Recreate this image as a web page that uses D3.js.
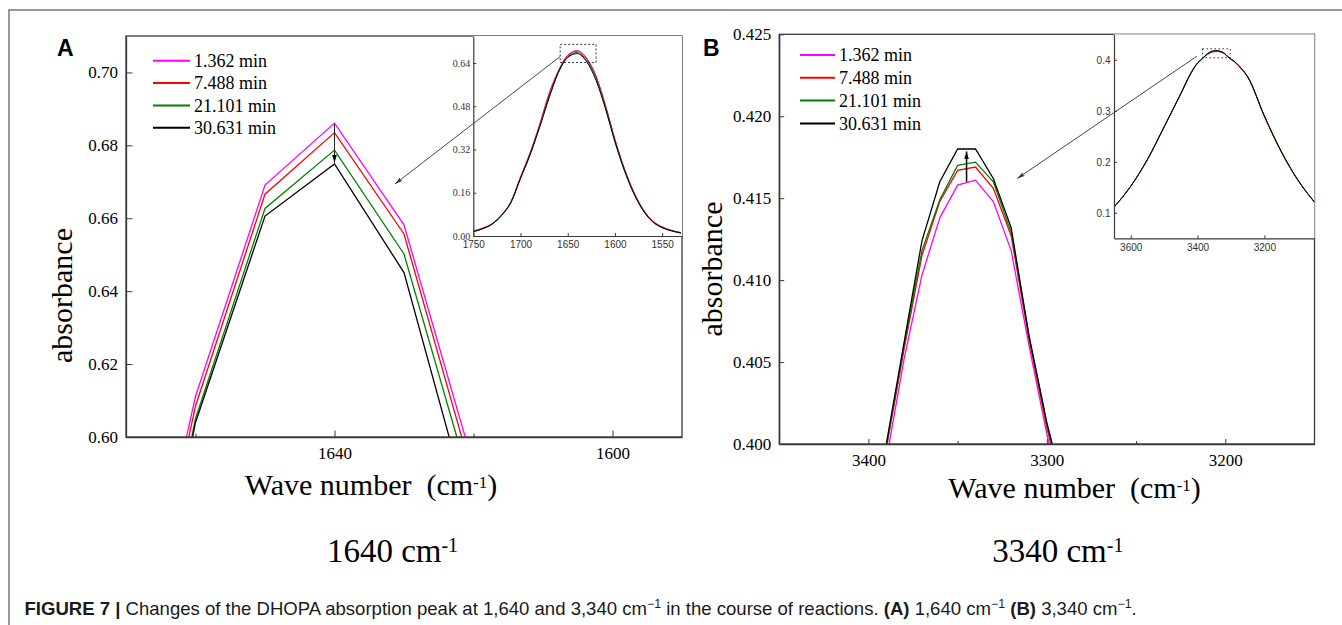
<!DOCTYPE html>
<html>
<head>
<meta charset="utf-8">
<title>Figure 7 - DHOPA absorption peaks</title>
<script src="https://cdn.jsdelivr.net/npm/d3@7"></script>
<style>
  body { margin: 0; background: #fff; }
  svg { display: block; }
</style>
</head>
<body>
<div id="figure"></div>
<script>
// ---- values ----
const seriesNames = ['1.362 min', '7.488 min', '21.101 min', '30.631 min'];
const seriesColors = ['#ff00ff', '#ff0000', '#008000', '#000000'];

// 1640 cm-1 band (the zoomed plot and the inset share these points)
const waveA = [1750, 1740, 1730, 1720, 1710, 1700, 1690, 1680, 1670, 1660, 1650, 1640,
               1630, 1620, 1610, 1600, 1590, 1580, 1570, 1560, 1550, 1540, 1530];
const absA1362 = [0.018, 0.029, 0.046, 0.079, 0.128, 0.219, 0.307, 0.410, 0.526, 0.6111, 0.6691, 0.6861,
                  0.6582, 0.5921, 0.484, 0.358, 0.250, 0.163, 0.098, 0.056, 0.034, 0.021, 0.013];
const absA7488 = [0.018, 0.029, 0.046, 0.078, 0.127, 0.217, 0.305, 0.407, 0.520, 0.6085, 0.6666, 0.6835,
                  0.6557, 0.5886, 0.481, 0.356, 0.248, 0.162, 0.097, 0.055, 0.033, 0.020, 0.012];
const absA21101 = [0.016, 0.027, 0.044, 0.076, 0.125, 0.214, 0.301, 0.402, 0.512, 0.6050, 0.6627, 0.6787,
                   0.6502, 0.5842, 0.477, 0.352, 0.245, 0.159, 0.095, 0.053, 0.031, 0.019, 0.011];
const absA30631 = [0.016, 0.027, 0.044, 0.076, 0.125, 0.213, 0.299, 0.400, 0.508, 0.6040, 0.6606, 0.6749,
                   0.6451, 0.5757, 0.470, 0.348, 0.242, 0.157, 0.093, 0.052, 0.031, 0.019, 0.011];

// 3340 cm-1 band
const waveB = [3650, 3600, 3550, 3500, 3450, 3420, 3400, 3390, 3380, 3370, 3360, 3350,
               3340, 3330, 3320, 3310, 3300, 3290, 3270, 3250, 3200, 3150, 3100, 3050];
const absB1362 = [0.111, 0.152, 0.204, 0.268, 0.333, 0.373, 0.3928, 0.3990, 0.4052, 0.4103, 0.4138, 0.4158,
                  0.4161, 0.4148, 0.4118, 0.4060, 0.4006, 0.3960, 0.383, 0.366, 0.289, 0.220, 0.164, 0.121];
const absB7488 = [0.111, 0.152, 0.204, 0.268, 0.333, 0.373, 0.3934, 0.3997, 0.4058, 0.4115, 0.4148, 0.4167,
                  0.4169, 0.4156, 0.4127, 0.4064, 0.4010, 0.3965, 0.383, 0.366, 0.289, 0.220, 0.164, 0.121];
const absB21101 = [0.111, 0.152, 0.204, 0.268, 0.334, 0.374, 0.3936, 0.3998, 0.4060, 0.4118, 0.4149, 0.4170,
                   0.4172, 0.4160, 0.4129, 0.4066, 0.4012, 0.3968, 0.384, 0.367, 0.290, 0.221, 0.164, 0.121];
const absB30631 = [0.111, 0.152, 0.205, 0.269, 0.334, 0.374, 0.3938, 0.4000, 0.4062, 0.4124, 0.4160, 0.4180,
                   0.4180, 0.4162, 0.4132, 0.4066, 0.4013, 0.3970, 0.384, 0.367, 0.290, 0.221, 0.165, 0.121];

// ticks
const xTicksA = [1640, 1600];
const xMinorA = [1660, 1620];
const yTicksA = [0.60, 0.62, 0.64, 0.66, 0.68, 0.70];
const xTicksInsetA = [1750, 1700, 1650, 1600, 1550];
const yTicksInsetA = [0, 0.16, 0.32, 0.48, 0.64];
const xTicksB = [3400, 3300, 3200];
const xMinorB = [3350, 3250];
const yTicksB = [0.400, 0.405, 0.410, 0.415, 0.420, 0.425];
const xTicksInsetB = [3600, 3400, 3200];
const yTicksInsetB = [0.1, 0.2, 0.3, 0.4];

const seriesA = [absA1362, absA7488, absA21101, absA30631].map((v, i) => ({ name: seriesNames[i], color: seriesColors[i], values: v }));
const seriesB = [absB1362, absB7488, absB21101, absB30631].map((v, i) => ({ name: seriesNames[i], color: seriesColors[i], values: v }));

// ---- drawing ----
const W = 1342, H = 625;
const AXIS = '#3a3a3a';
const SERIF = '"Liberation Serif", "Times New Roman", serif';
const SANS = '"Liberation Sans", Arial, sans-serif';

const svg = d3.select('#figure').append('svg').attr('width', W).attr('height', H);
const defs = svg.append('defs');

// arrow heads
defs.append('marker').attr('id', 'thinHead')
    .attr('viewBox', '0 0 10 10').attr('refX', 10).attr('refY', 5)
    .attr('markerWidth', 8).attr('markerHeight', 8).attr('markerUnits', 'userSpaceOnUse').attr('orient', 'auto')
    .append('path').attr('d', 'M0,2.3 L10,5 L0,7.7 L2,5 Z').attr('fill', '#333');
defs.append('marker').attr('id', 'boldHead')
    .attr('viewBox', '0 0 10 10').attr('refX', 10).attr('refY', 5)
    .attr('markerWidth', 8).attr('markerHeight', 8).attr('markerUnits', 'userSpaceOnUse').attr('orient', 'auto')
    .append('path').attr('d', 'M0,2 L10,5 L0,8 Z').attr('fill', '#000');

// outer figure border
svg.append('path').attr('d', `M9,${H} V10 H${W}`).attr('fill', 'none').attr('stroke', '#777').attr('stroke-width', 1.5);

/**
 * One plot area: lines, inward ticks, labels
 */
function plot(o) {
    const x = d3.scaleLinear().domain(o.xDomain).range([o.box.l, o.box.r]);
    const y = d3.scaleLinear().domain(o.yDomain).range([o.box.b, o.box.t]);
    const g = svg.append('g').attr('class', o.id);

    if (o.background) {
        g.append('rect').attr('x', o.box.l).attr('y', o.box.t)
            .attr('width', o.box.r - o.box.l).attr('height', o.box.b - o.box.t).attr('fill', '#fff');
    }

    defs.append('clipPath').attr('id', `${o.id}-clip`).append('rect')
        .attr('x', o.box.l).attr('y', o.box.t)
        .attr('width', o.box.r - o.box.l).attr('height', o.box.b - o.box.t);

    const line = d3.line().x((d, i) => x(o.wave[i])).y(d => y(d)).curve(o.curve || d3.curveLinear);
    g.append('g').attr('clip-path', `url(#${o.id}-clip)`)
        .selectAll('path').data(o.series).join('path')
        .attr('d', d => line(d.values))
        .attr('fill', 'none')
        .attr('stroke', d => d.color)
        .attr('stroke-width', o.lineWidth);

    const xAxis = g.append('g').attr('transform', `translate(0,${o.box.b})`)
        .call(d3.axisBottom(x).tickValues(o.xTicks).tickSizeInner(-o.tickLen).tickSizeOuter(0)
            .tickPadding(o.xPad).tickFormat(d3.format(o.xFmt)));
    if (o.xMinor) {
        g.append('g').attr('transform', `translate(0,${o.box.b})`)
            .call(d3.axisBottom(x).tickValues(o.xMinor).tickSizeInner(-o.minorLen).tickSizeOuter(0).tickFormat(''))
            .call(a => a.select('.domain').remove());
    }
    const yAxis = g.append('g').attr('transform', `translate(${o.box.l},0)`)
        .call(d3.axisLeft(y).tickValues(o.yTicks).tickSizeInner(-o.tickLen).tickSizeOuter(0)
            .tickPadding(o.yPad).tickFormat(d3.format(o.yFmt)));

    g.selectAll('.domain').attr('stroke', AXIS).attr('stroke-width', o.axisWidth);
    g.selectAll('.tick line').attr('stroke', AXIS).attr('stroke-width', 1);
    xAxis.selectAll('text').attr('font-family', o.xFont).attr('font-size', o.fontSize).attr('fill', o.textColor);
    yAxis.selectAll('text').attr('font-family', o.yFont).attr('font-size', o.fontSize).attr('fill', o.textColor);

    if (o.frame) {
        g.append('rect').attr('x', o.box.l).attr('y', o.box.t)
            .attr('width', o.box.r - o.box.l).attr('height', o.box.b - o.box.t)
            .attr('fill', 'none').attr('stroke', AXIS).attr('stroke-width', o.axisWidth);
    }
    return { x, y, g };
}

function legend(x0, y0, step, len) {
    const lg = svg.append('g').attr('transform', `translate(${x0},${y0})`);
    seriesNames.forEach((name, i) => {
        const row = lg.append('g').attr('transform', `translate(0,${i * step})`);
        row.append('line').attr('x1', 0).attr('x2', len)
            .attr('stroke', seriesColors[i]).attr('stroke-width', 2);
        row.append('text').attr('x', len + 4).attr('dy', '0.35em')
            .attr('font-family', SERIF).attr('font-size', 18).text(name);
    });
}

// text with a superscript piece, e.g. cm-1
function supText(x, y, parts, size, supSize, rise, anchor) {
    const t = svg.append('text').attr('x', x).attr('y', y)
        .attr('font-family', SERIF).attr('font-size', size)
        .attr('text-anchor', anchor || 'middle').style('white-space', 'pre');
    t.append('tspan').text(parts[0]);
    t.append('tspan').attr('dy', -rise).attr('font-size', supSize).text(parts[1]);
    t.append('tspan').attr('dy', rise).text(parts[2]);
    return t;
}

function yTitle(x, y) {
    svg.append('text').attr('transform', `translate(${x},${y}) rotate(-90)`)
        .attr('text-anchor', 'middle').attr('font-family', SERIF).attr('font-size', 30)
        .text('absorbance');
}

function panelLetter(x, y, s) {
    svg.append('text').attr('x', x).attr('y', y)
        .attr('font-family', SANS).attr('font-weight', 'bold').attr('font-size', 23).text(s);
}

function arrow(x1, y1, x2, y2, head, color, width) {
    svg.append('line').attr('x1', x1).attr('y1', y1).attr('x2', x2).attr('y2', y2)
        .attr('stroke', color).attr('stroke-width', width).attr('marker-end', `url(#${head})`);
}

// ---------- panel A ----------
const mainA = plot({
    id: 'mainA', xDomain: [1670, 1590], yDomain: [0.60, 0.71],
    box: { l: 126, t: 36, r: 682, b: 437 },
    wave: waveA, series: seriesA, lineWidth: 1.3,
    xTicks: xTicksA, xMinor: xMinorA, yTicks: yTicksA, xFmt: 'd', yFmt: '.2f',
    tickLen: 6.5, minorLen: 3.5, xPad: 10, yPad: 8,
    xFont: SERIF, yFont: SERIF, fontSize: 17, textColor: '#000', axisWidth: 1.3, frame: true
});
const insetA = plot({
    id: 'insetA', xDomain: [1750, 1529], yDomain: [0, 0.74],
    box: { l: 473.3, t: 36, r: 682, b: 236 },
    wave: waveA, series: seriesA, lineWidth: 1, background: true, curve: d3.curveMonotoneX,
    xTicks: xTicksInsetA, yTicks: yTicksInsetA, xFmt: 'd', yFmt: '.2f',
    tickLen: 3, xPad: 5, yPad: 3,
    xFont: SANS, yFont: SERIF, fontSize: 10, textColor: '#333', axisWidth: 1.2, frame: false
});
// dotted box around the peak in the inset
insetA.g.append('rect')
    .attr('x', insetA.x(1658)).attr('y', insetA.y(0.709))
    .attr('width', insetA.x(1620) - insetA.x(1658)).attr('height', insetA.y(0.642) - insetA.y(0.709))
    .attr('fill', 'none').attr('stroke', '#333').attr('stroke-width', 1).attr('stroke-dasharray', '2,2');

legend(153, 60.7, 22.35, 37);
panelLetter(57, 56, 'A');
yTitle(72, 295.5);
supText(371, 495, ['Wave number\u00a0\u00a0(cm', '-1', ')'], 30, 17, 7);
supText(392.5, 561.7, ['1640 cm', '-1', ''], 33, 20, 10);

// long arrow inset -> zoom, short arrow showing the decrease
arrow(insetA.x(1658), insetA.y(0.664), mainA.x(1631.3), mainA.y(0.6694), 'thinHead', '#333', 0.9);
arrow(mainA.x(1640), mainA.y(0.6858), mainA.x(1640), mainA.y(0.6752), 'boldHead', '#222', 1);

// ---------- panel B ----------
const mainB = plot({
    id: 'mainB', xDomain: [3450, 3150], yDomain: [0.400, 0.425],
    box: { l: 779.2, t: 34.3, r: 1314.5, b: 444 },
    wave: waveB, series: seriesB, lineWidth: 1.3,
    xTicks: xTicksB, xMinor: xMinorB, yTicks: yTicksB, xFmt: 'd', yFmt: '.3f',
    tickLen: 5, minorLen: 3, xPad: 10, yPad: 8,
    xFont: SERIF, yFont: SERIF, fontSize: 17, textColor: '#000', axisWidth: 1.3, frame: true
});
const insetB = plot({
    id: 'insetB', xDomain: [3650, 3050], yDomain: [0.05, 0.45],
    box: { l: 1114, t: 34.3, r: 1314.5, b: 238.3 },
    wave: waveB, series: seriesB, lineWidth: 1, background: true, curve: d3.curveMonotoneX,
    xTicks: xTicksInsetB, yTicks: yTicksInsetB, xFmt: 'd', yFmt: '.1f',
    tickLen: 3, xPad: 5.5, yPad: 3.5,
    xFont: SANS, yFont: SANS, fontSize: 10, textColor: '#333', axisWidth: 1.2, frame: false
});
insetB.g.append('rect')
    .attr('x', insetB.x(3385)).attr('y', insetB.y(0.4216))
    .attr('width', insetB.x(3302) - insetB.x(3385)).attr('height', insetB.y(0.4039) - insetB.y(0.4216))
    .attr('fill', 'none').attr('stroke', '#333').attr('stroke-width', 1).attr('stroke-dasharray', '1.5,2.5');

legend(800, 55, 22.8, 35);
panelLetter(703, 56, 'B');
yTitle(722, 269);
supText(1074.6, 498, ['Wave number\u00a0\u00a0(cm', '-1', ')'], 30, 17, 7);
supText(1057.8, 561.7, ['3340 cm', '-1', ''], 33, 20, 10);

arrow(insetB.x(3402), insetB.y(0.407), mainB.x(3316.6), mainB.y(0.4162), 'thinHead', '#333', 0.9);
arrow(mainB.x(3345), mainB.y(0.4160), mainB.x(3345), mainB.y(0.41785), 'boldHead', '#000', 1.5);

// ---------- caption ----------
const cap = svg.append('text').attr('font-family', SANS).attr('font-size', 18).attr('fill', '#1a1a1a')
    .style('white-space', 'pre');
const capParts = [
    ['FIGURE 7 | ', 'b'], ['Changes of the DHOPA absorption peak at 1,640 and 3,340 cm', 'n'], ['\u22121', 's'],
    [' in the course of reactions. ', 'n'], ['(A)', 'b'], [' 1,640 cm', 'n'], ['\u22121', 's'],
    [' ', 'n'], ['(B)', 'b'], [' 3,340 cm', 'n'], ['\u22121', 's'], ['.', 'n']
];
let raised = false;
capParts.forEach(([txt, kind]) => {
    const ts = cap.append('tspan').text(txt);
    if (kind === 'b') ts.attr('font-weight', 'bold');
    if (kind === 's') { ts.attr('font-size', 12).attr('dy', -7); raised = true; }
    else if (raised) { ts.attr('dy', 7); raised = false; }
});
const capWidth = cap.node().getComputedTextLength();
cap.attr('transform', `translate(24.5,615) scale(${1113.5 / capWidth},1)`);
</script>
</body>
</html>
